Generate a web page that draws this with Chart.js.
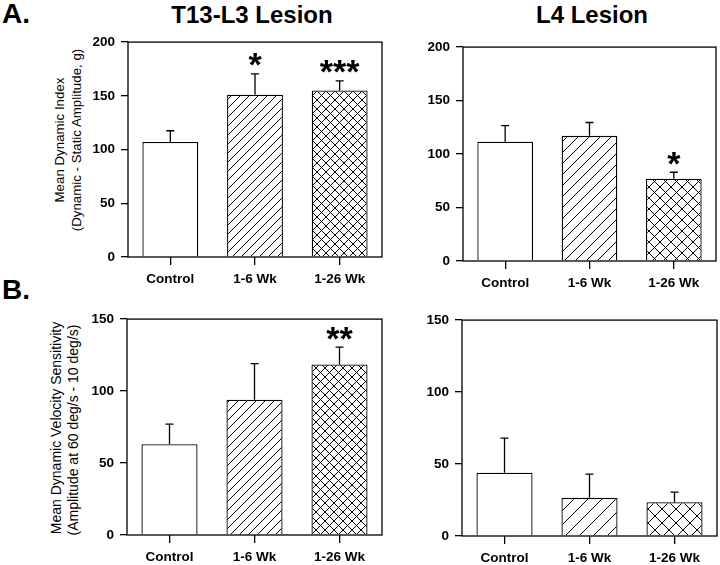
<!DOCTYPE html>
<html lang="en">
<head>
<meta charset="UTF-8">
<title>Lesion figure</title>
<style>
  body {
    margin: 0;
    width: 720px;
    height: 565px;
    background: #fff;
    position: relative;
    overflow: hidden;
    font-family: Arial, "Liberation Sans", sans-serif;
    color: #000;
  }
  canvas { position: absolute; }
  .txt {
    position: absolute;
    white-space: nowrap;
    line-height: 1;
  }
  .panel { font-size: 28px; font-weight: bold; left: 2px; }
  .head { font-size: 24px; font-weight: bold; transform: translateX(-50%); top: 3px; }
  .ytitle {
    font-size: 13.3px;
    transform: translate(-50%, -50%) rotate(-90deg);
  }
  .ytitle.b { font-size: 14px; }
</style>
</head>
<body>
  <div class="txt panel" style="top:0px">A.</div>
  <div class="txt panel" style="top:276px">B.</div>
  <div class="txt head" style="left:252px">T13-L3 Lesion</div>
  <div class="txt head" style="left:592px">L4 Lesion</div>

  <div class="txt ytitle" style="left:60px; top:140px">Mean Dynamic Index</div>
  <div class="txt ytitle" style="left:77px; top:140px">(Dynamic - Static Amplitude, g)</div>
  <div class="txt ytitle b" style="left:56px; top:428px">Mean Dynamic Velocity Sensitivity</div>
  <div class="txt ytitle b" style="left:73px; top:430px">(Amplitude at 60 deg/s - 10 deg/s)</div>

  <canvas id="aLeft"></canvas>
  <canvas id="aRight"></canvas>
  <canvas id="bLeft"></canvas>
  <canvas id="bRight"></canvas>

  <script src="https://cdn.jsdelivr.net/npm/chart.js"></script>
  <script>
    // data
    const groups = ['Control', '1-6 Wk', '1-26 Wk'];

    const indexT13 = [107, 151, 155];
    const indexT13Err = [10.5, 19.5, 9];
    const indexT13Sig = ['', '*', '***'];

    const indexL4 = [111.5, 117, 77];
    const indexL4Err = [15, 12.5, 6];
    const indexL4Sig = ['', '', '*'];

    const velT13 = [63, 94, 118.5];
    const velT13Err = [14, 25, 12];
    const velT13Sig = ['', '', '**'];

    const velL4 = [44, 26.5, 23.5];
    const velL4Err = [24, 16.5, 7];
    const velL4Sig = ['', '', ''];

    const yTicksIndex = { max: 200, step: 50 };
    const yTicksVel = { max: 150, step: 50 };

    const FONT = 'Arial, "Liberation Sans", sans-serif';

    function hatch(size, cross) {
      const c = document.createElement('canvas');
      c.width = c.height = size;
      const g = c.getContext('2d');
      g.fillStyle = '#fff';
      g.fillRect(0, 0, size, size);
      g.strokeStyle = '#000';
      g.lineWidth = 1;
      g.beginPath();
      g.moveTo(-1, size + 1); g.lineTo(size + 1, -1);
      g.moveTo(-1, 1); g.lineTo(1, -1);
      g.moveTo(size - 1, size + 1); g.lineTo(size + 1, size - 1);
      if (cross) {
        g.moveTo(-1, -1); g.lineTo(size + 1, size + 1);
        g.moveTo(size - 1, -1); g.lineTo(size + 1, 1);
        g.moveTo(-1, size - 1); g.lineTo(1, size + 1);
      }
      g.stroke();
      return g.createPattern(c, 'repeat');
    }

    // error bars (upper only) + significance stars + frame
    const extras = {
      id: 'extras',
      afterDatasetsDraw(chart) {
        const ctx = chart.ctx;
        const y = chart.scales.y;
        const meta = chart.getDatasetMeta(0);
        const ds = chart.data.datasets[0];
        ctx.save();
        ctx.strokeStyle = '#000';
        ctx.lineWidth = 1.3;
        meta.data.forEach((bar, i) => {
          const top = y.getPixelForValue(ds.data[i] + ds.err[i]);
          ctx.beginPath();
          ctx.moveTo(bar.x, bar.y);
          ctx.lineTo(bar.x, top);
          ctx.moveTo(bar.x - 4, top);
          ctx.lineTo(bar.x + 4, top);
          ctx.stroke();
          if (ds.sig[i]) {
            ctx.fillStyle = '#000';
            ctx.font = 'bold 34px ' + FONT;
            ctx.textAlign = 'center';
            ctx.textBaseline = 'alphabetic';
            ctx.fillText(ds.sig[i], bar.x, top - 16 + 0.55 * 34);
          }
        });
        const a = chart.chartArea;
        ctx.lineWidth = 1.3;
        ctx.strokeRect(a.left, a.top, a.right - a.left, a.bottom - a.top);
        ctx.restore();
      }
    };

    function makeChart(id, rect, values, errs, sig, yt, hatchSize) {
      const canvas = document.getElementById(id);
      const padTop = 10, yW = 45, xH = 40, padRight = 3;
      canvas.width = rect.r - rect.l + yW + padRight;
      canvas.height = rect.b - rect.t + padTop + xH;
      canvas.style.left = (rect.l - yW) + 'px';
      canvas.style.top = (rect.t - padTop) + 'px';

      return new Chart(canvas, {
        type: 'bar',
        data: {
          labels: groups,
          datasets: [{
            data: values,
            err: errs,
            sig: sig,
            backgroundColor: ['#fff', hatch(hatchSize, false), hatch(hatchSize, true)],
            borderColor: '#000',
            borderWidth: 1.3,
            barPercentage: 0.66,
            categoryPercentage: 1
          }]
        },
        options: {
          responsive: false,
          devicePixelRatio: 1,
          animation: false,
          layout: { padding: { top: padTop, right: padRight, left: 0, bottom: 0 } },
          plugins: { legend: { display: false }, tooltip: { enabled: false } },
          scales: {
            x: {
              afterFit: s => { s.height = xH; },
              border: { display: false },
              grid: { offset: false, drawOnChartArea: false, color: '#000', lineWidth: 1.3, tickLength: 8 },
              ticks: { color: '#000', padding: 6, font: { family: FONT, size: 13.5, weight: 'bold' } }
            },
            y: {
              min: 0,
              max: yt.max,
              afterFit: s => { s.width = yW; },
              border: { display: false },
              grid: { drawOnChartArea: false, color: '#000', lineWidth: 1.3, tickLength: 7 },
              ticks: { stepSize: yt.step, color: '#000', padding: 6, font: { family: FONT, size: 13.5, weight: 'bold' } }
            }
          }
        },
        plugins: [extras]
      });
    }

    makeChart('aLeft',  { l: 128, t: 38,  r: 382, b: 257 }, indexT13, indexT13Err, indexT13Sig, yTicksIndex, 9);
    makeChart('aRight', { l: 463, t: 43,  r: 716, b: 261 }, indexL4,  indexL4Err,  indexL4Sig,  yTicksIndex, 11);
    makeChart('bLeft',  { l: 127, t: 315, r: 382, b: 535 }, velT13,   velT13Err,   velT13Sig,   yTicksVel,   9);
    makeChart('bRight', { l: 462, t: 316, r: 717, b: 536 }, velL4,    velL4Err,    velL4Sig,    yTicksVel,   14);
  </script>
</body>
</html>
